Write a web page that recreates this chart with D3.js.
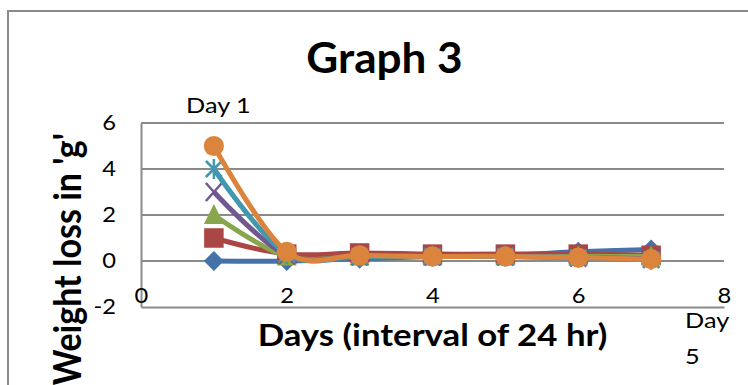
<!DOCTYPE html>
<html><head><meta charset="utf-8">
<script src="https://cdn.jsdelivr.net/npm/d3@7"></script>
<style>
html,body{margin:0;padding:0;background:#fff;}
svg{display:block;font-family:Lato,"Open Sans",sans-serif;}
</style></head>
<body>
<svg id="chart" width="748" height="385"></svg>
<script>
// ---- data ----
const days = [1, 2, 3, 4, 5, 6, 7];
const seriesNames = ["S1", "S2", "S3", "S4", "S5", "S6"];
const s1 = [0, 0, 0.1, 0.2, 0.25, 0.4, 0.5];
const s2 = [1, 0.3, 0.35, 0.3, 0.3, 0.3, 0.25];
const s3 = [2, 0.2, 0.2, 0.2, 0.2, 0.2, 0.2];
const s4 = [3, 0.25, 0.2, 0.2, 0.2, 0.15, 0.1];
const s5 = [4, 0.3, 0.2, 0.2, 0.2, 0.15, 0.05];
const s6 = [5, 0.4, 0.25, 0.2, 0.2, 0.15, 0.08];
const xTicks = [0, 2, 4, 6, 8];
const yTicks = [-2, 0, 2, 4, 6];
const title = "Graph 3";
const xTitle = "Days (interval of 24 hr)";
const yTitle = "Weight loss in 'g'";

const colors = ["#4572A7", "#AA4643", "#89A54E", "#71588F", "#4198AF", "#DB843D"];
const markers = ["diamond", "square", "triangle", "x", "star", "circle"];
const allSeries = [s1, s2, s3, s4, s5, s6];

const svg = d3.select("#chart");
const x = d3.scaleLinear().domain([0, 8]).range([141, 724]);
const y = d3.scaleLinear().domain([-2, 6]).range([307, 123]);
const grid = "#8a8a8a";
const SX = 1.13; // horizontal stretch of the glyphs in the reference

function label(px, py, size, weight, anchor, sx, txt) {
  return svg.append("text")
    .attr("transform", `translate(${px},${py}) scale(${sx},1)`)
    .attr("text-anchor", anchor).attr("font-size", size).attr("font-weight", weight)
    .attr("fill", "#000").text(txt);
}

// chart frame
svg.append("path").attr("d", "M8,400 L8,11 L760,11").attr("fill", "none")
  .attr("stroke", grid).attr("stroke-width", 2);

// title
label(384.5, 73, 42, "bold", "middle", 1.05, title);

// gridlines
svg.append("g").selectAll("line").data(yTicks.filter(d => d > -2)).join("line")
  .attr("x1", x(0)).attr("x2", x(8)).attr("y1", d => y(d)).attr("y2", d => y(d))
  .attr("stroke", grid).attr("stroke-width", 1.8);

// y axis
const yAxis = svg.append("g").attr("transform", `translate(${x(0)},0)`)
  .call(d3.axisLeft(y).tickValues(yTicks).tickSize(0).tickPadding(25).tickFormat(d => String(d)));
yAxis.select(".domain").attr("stroke", grid).attr("stroke-width", 2);
yAxis.selectAll("text").attr("font-size", 21).attr("font-family", "Lato").attr("fill", "#000")
  .attr("x", -25 / SX).attr("transform", `scale(${SX},1)`);

// x axis (labels above line at y=-2)
const xAxis = svg.append("g").attr("transform", `translate(0,${y(-2)})`)
  .call(d3.axisTop(x).tickValues(xTicks).tickSize(0).tickPadding(4).tickFormat(d => String(d)));
xAxis.select(".domain").attr("stroke", grid).attr("stroke-width", 2);
xAxis.selectAll("text").attr("font-size", 21).attr("font-family", "Lato").attr("fill", "#000")
  .attr("transform", `scale(${SX},1)`);

// axis titles
label((x(0) + x(8)) / 2, 346, 30, "bold", "middle", 1.16, xTitle);
svg.append("text").attr("transform", "translate(81,133) rotate(-90) scale(1,1.1)").attr("text-anchor", "end")
  .attr("font-size", 34).attr("font-weight", "bold").attr("fill", "#000").text(yTitle);

// lines + markers
const line = d3.line().x((d, i) => x(days[i])).y(d => y(d)).curve(d3.curveCardinal.tension(0));

function drawMarker(g, type, color) {
  if (type === "diamond") {
    g.append("path").attr("d", d3.symbol(d3.symbolSquare, 200)()).attr("transform", "rotate(45)").attr("fill", color);
  } else if (type === "square") {
    g.append("path").attr("d", d3.symbol(d3.symbolSquare, 380)()).attr("fill", color);
  } else if (type === "triangle") {
    g.append("path").attr("d", "M0,-11 L10,9 L-10,9 Z").attr("fill", color);
  } else if (type === "circle") {
    g.append("path").attr("d", d3.symbol(d3.symbolCircle, 320)()).attr("fill", color);
  } else if (type === "x") {
    g.append("path").attr("d", "M-8,-9 L8,9 M8,-9 L-8,9").attr("stroke", color).attr("stroke-width", 2.5).attr("fill", "none");
  } else if (type === "star") {
    g.append("path").attr("d", "M-8,-8 L8,8 M8,-8 L-8,8 M0,-10 L0,10").attr("stroke", color).attr("stroke-width", 2.5).attr("fill", "none");
  }
}

allSeries.forEach((vals, si) => {
  const g = svg.append("g").attr("class", "series " + seriesNames[si]);
  g.append("path").attr("d", line(vals)).attr("fill", "none")
    .attr("stroke", colors[si]).attr("stroke-width", 5).attr("stroke-linejoin", "round");
  g.selectAll("g.m").data(vals).join("g").attr("class", "m")
    .attr("transform", (d, i) => `translate(${x(days[i])},${y(d)})`)
    .each(function () { drawMarker(d3.select(this), markers[si], colors[si]); });
});

// free text labels
label(186, 113, 22, "normal", "start", 1.15, "Day 1");
const d5 = svg.append("text").attr("transform", "translate(685,328) scale(1.15,1)")
  .attr("font-size", 22).attr("fill", "#000");
d5.append("tspan").attr("x", 0).attr("y", 0).text("Day");
d5.append("tspan").attr("x", 0).attr("y", 36).text("5");
</script>
</body></html>
